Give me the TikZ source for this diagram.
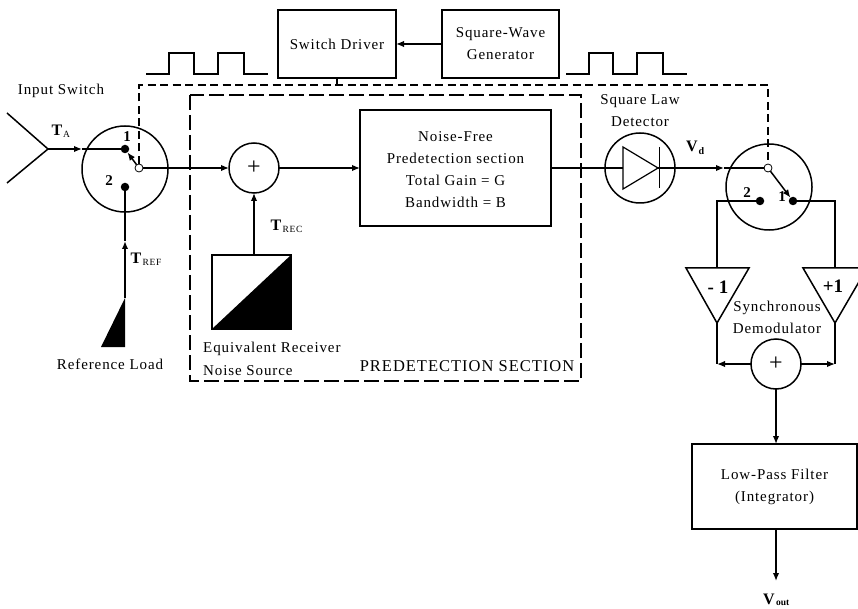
\documentclass[tikz,border=0pt]{standalone}
\usepackage{fontspec}
\setmainfont[LetterSpace=6]{Liberation Serif}
\newfontfamily\boldlbl{Liberation Serif}
\usetikzlibrary{arrows.meta,positioning,calc}

\begin{document}
\begin{tikzpicture}[
    x=1pt, y=-1pt,
    wire/.style={line width=1.5pt},
    arr/.style={wire, -{Latex[length=8pt,width=6.5pt]}},
    ctrl/.style={line width=1.2pt, dash pattern=on 8pt off 4.5pt},
    sect/.style={line width=1.2pt, dash pattern=on 15pt off 5pt},
    blockbox/.style={draw=black, line width=1.5pt, inner sep=0pt, outer sep=0pt, align=center, font=\fontsize{15}{22}\selectfont},
    ring/.style={circle, draw=black, line width=1.5pt, inner sep=0pt, outer sep=0pt},
    contact/.style={circle, fill=black, inner sep=0pt, outer sep=0pt, minimum size=8.5pt},
    pivot/.style={circle, draw=black, fill=white, line width=0.8pt, inner sep=0pt, outer sep=0pt, minimum size=8pt},
    lbl/.style={inner sep=0pt, align=center, font=\fontsize{15}{22}\selectfont},
    sym/.style={inner sep=0pt, font=\boldlbl\fontsize{16}{18}\selectfont\bfseries},
    num/.style={inner sep=0pt, font=\boldlbl\fontsize{15}{18}\selectfont\bfseries},
    sub/.style={inner sep=0pt, font=\fontsize{9.5}{10}\selectfont},
    gain/.style={inner sep=0pt, font=\boldlbl\fontsize{19}{20}\selectfont\bfseries}
]
  \useasboundingbox (0,0) rectangle (858,609);

  % timing boxes
  \node[blockbox, minimum width=118pt, minimum height=68pt] (driver) at (337,44) {Switch Driver};
  \node[blockbox, minimum width=117pt, minimum height=68pt, right=46pt of driver] (gen) {Square-Wave\\Generator};
  \draw[arr] (gen) -- (driver);

  % input side
  \node[ring, minimum size=86pt] (insw) at (125,169) {};
  \node[contact] (in1) at (125,149) {};
  \node[contact] (in2) at (125,187) {};
  \coordinate (horn) at (48,149);
  \coordinate (hornup) at (7,113);
  \coordinate (horndn) at (7,183);
  \coordinate (tatip) at (82,149);
  \draw[wire] (hornup) -- (horn) -- (horndn);
  \draw[arr] (horn) -- (tatip);
  \draw[wire] (tatip) -- (in1);

  % reference load
  \coordinate (loadtop) at (125,298);
  \coordinate (loadbl) at (101,347);
  \coordinate (loadbr) at (125,347);
  \coordinate (reftip) at (125,241);
  \fill (loadtop) -- (loadbl) -- (loadbr) -- cycle;
  \draw[line width=2.2pt, -{Latex[length=8pt,width=6.5pt]}] (loadtop) -- (reftip);
  \draw[wire] (reftip) -- (in2);

  % predetection section
  \node[ring, minimum size=50pt] (sum) at (254,168) {\fontsize{24}{24}\selectfont +};
  \node[blockbox, minimum width=191pt, minimum height=116pt] (predet) at (455.5,168) {};
  \node[lbl] (predettext) at (455.5,169.5) {Noise-Free\\Predetection section\\Total Gain = G\\Bandwidth = B};
  \node[draw=black, line width=1.5pt, inner sep=0pt, outer sep=0pt, minimum width=79pt, minimum height=74pt] (noise) at (251.5,292) {};
  \fill (noise.south west) -- (noise.north east) -- (noise.south east) -- cycle;
  \draw[arr] (noise.north -| sum) -- (sum);
  \draw[arr] (sum) -- (predet);
  \draw[sect] (190,95) rectangle (581,381);

  % detector
  \node[ring, minimum size=70pt] (det) at (640,168) {};
  \coordinate (dioA) at (623,147);
  \coordinate (dioB) at (623,189);
  \coordinate (dioK) at (658,168);
  \draw[line width=1.2pt] (dioA) -- (dioB) -- (dioK) -- cycle;
  \draw[line width=0.7pt] (659,147) -- (659,188);
  \draw[wire] (predet.east) -- ($(dioA)!0.5!(dioB)$);

  % output switch
  \node[ring, minimum size=86pt] (outsw) at (769,187) {};
  \node[contact] (out2) at (760,201) {};
  \node[contact] (out1) at (793,201) {};
  \coordinate (vdtip) at (724,168);
  \draw[wire, -{Latex[length=8pt,width=6.5pt]}] (dioK) -- (vdtip);
  \draw[wire] (vdtip) -- (768,168);

  % demodulator
  \coordinate (negL) at (686,268);
  \coordinate (negR) at (749,268);
  \coordinate (negT) at (717,268);
  \coordinate (negB) at (717,323);
  \coordinate (posL) at (803,268);
  \coordinate (posR) at (867,268);
  \coordinate (posT) at (835,268);
  \coordinate (posB) at (835,323);
  \draw[wire] (negL) -- (negR) -- (negB) -- cycle;
  \draw[wire] (posL) -- (posR) -- (posB) -- cycle;
  \draw[wire] (out2) -| (negT);
  \draw[wire] (out1) -| (posT);
  \node[ring, minimum size=50pt] (demod) at (776,364) {\fontsize{24}{24}\selectfont +};
  \draw[wire] (negB) -- (demod -| negB);
  \draw[wire] (posB) -- (demod -| posB);
  \draw[arr] (demod) -- (demod -| negB);
  \draw[arr] (demod) -- (demod -| posB);

  % output
  \node[blockbox, minimum width=165pt, minimum height=85pt, below=55pt of demod, xshift=-1.5pt] (lpf) {Low-Pass Filter\\(Integrator)};
  \draw[arr] (demod) -- (demod |- lpf.north);
  \coordinate (outend) at (776,581);
  \draw[arr] (lpf.south -| outend) -- (outend);

  % switch control
  \coordinate[below=7pt of driver] (ctrltop);
  \node[pivot] (inpiv) at (139,168) {};
  \node[pivot] (outpiv) at (768,168) {};
  \draw[ctrl] (inpiv.north) |- (ctrltop) -| (outpiv.north);
  \draw[wire] (driver.south) -- (ctrltop);
  \draw[arr] (inpiv) -- (in1);
  \draw[arr] (inpiv) -- (sum);
  \draw[arr] (outpiv) -- (out1);

  % pulses
  \draw[wire] (146,74) -- (169,74) -- (169,53) -- (194,53) -- (194,74) -- (218,74) -- (218,53) -- (244,53) -- (244,74) -- (268,74);
  \draw[wire] (566,74) -- (589,74) -- (589,53) -- (613,53) -- (613,74) -- (637,74) -- (637,53) -- (663,53) -- (663,74) -- (687,74);

  % labels
  \node[lbl] (inlabel) at (61,91) {Input Switch};
  \node[lbl] (reflabel) at (110,364) {Reference Load};
  \node[lbl, anchor=west] (noiselabel) at (203,349) {Equivalent Receiver};
  \node[lbl, anchor=west] (noiselabelb) at (203,371) {Noise Source};
  \node[lbl, font=\fontsize{16.5}{20}\selectfont] (sectlabel) at (467,366) {PREDETECTION SECTION};
  \node[lbl] (detlabel) at (640,111) {Square Law\\Detector};
  \node[lbl] (demodlabel) at (777,317) {Synchronous\\Demodulator};
  \node[sym] (talabel) at (57,130) {T};
  \node[sub, right=0.5pt of talabel, yshift=-4pt] (talabelb) {A};
  \node[sym] (reflbl) at (136,258) {T};
  \node[sub, right=1pt of reflbl, yshift=-4pt] (reflblb) {REF};
  \node[sym] (reclbl) at (276,225) {T};
  \node[sub, right=1pt of reclbl, yshift=-4pt] (reclblb) {REC};
  \node[sym] (vdlabel) at (692,146) {V};
  \node[sym, right=0.5pt of vdlabel, yshift=-5pt, font=\boldlbl\fontsize{10}{10}\selectfont\bfseries] (vdlabelb) {d};
  \node[sym] (vlabel) at (769,599) {V};
  \node[sym, right=1pt of vlabel, yshift=-4pt, font=\boldlbl\fontsize{9.5}{10}\selectfont\bfseries] (vlabelb) {out};
  \node[num] (num1) at (127,137) {1};
  \node[num] (num2) at (109,181) {2};
  \node[num] (numb2) at (747,193) {2};
  \node[num] (numb1) at (782,197) {1};
  \node[gain] (neglbl) at (718,287) {- 1};
  \node[gain] (poslbl) at (833,286) {+1};
\end{tikzpicture}
\end{document}
